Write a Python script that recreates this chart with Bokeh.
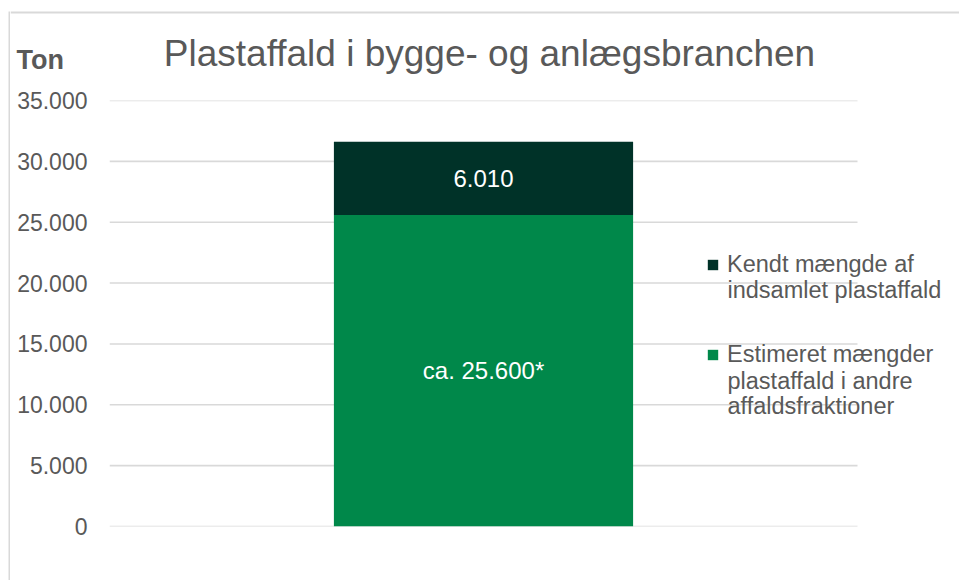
from bokeh.plotting import figure
from bokeh.models import (ColumnDataSource, Legend, LegendItem, Label, Range1d, Span)
from bokeh.layouts import row, column
from bokeh.embed import file_html
from bokeh.resources import INLINE
from bokeh.core.properties import value

# ---- data ----
categories = ["Bygge- og anlæg"]
series_names = [["Estimeret mængder", "plastaffald i andre", "affaldsfraktioner"],
                ["Kendt mængde af", "indsamlet plastaffald"]]
estimated = [25600]
known = [6010]
value_labels = ["ca. 25.600*", "6.010"]
y_ticks = [0, 5000, 10000, 15000, 20000, 25000, 30000, 35000]
y_tick_labels = ["0", "5.000", "10.000", "15.000", "20.000", "25.000", "30.000", "35.000"]
title_text = "Plastaffald i bygge- og anlægsbranchen"
unit_text = "Ton"

FONT = "Liberation Sans"
GRAY = "#595959"
LIGHT = "#d9d9d9"
C_EST = "#00884A"
C_KNOWN = "#003228"

W_TOTAL = 959
H_TOTAL = 580
STRIP_W = 10
HEAD_H = 88
MAIN_W = W_TOTAL - STRIP_W
MAIN_H = H_TOTAL - HEAD_H
MB_L, MB_R, MB_T, MB_B = 99, 4, 12, 54
CAT_PX = 748  # pixel width of the category band

# ---- left border strip ----
strip = figure(width=STRIP_W, height=H_TOTAL, x_range=(0, 1), y_range=(0, 1),
               output_backend="svg", toolbar_location=None,
               min_border_left=8, min_border_right=0, min_border_top=11, min_border_bottom=0)
strip.axis.visible = False
strip.grid.visible = False
strip.outline_line_color = None
strip.background_fill_color = LIGHT
strip.frame_align = False

# ---- header: title, unit, top border ----
head = figure(width=MAIN_W, height=HEAD_H, x_range=Range1d(0, MAIN_W), y_range=Range1d(0, HEAD_H),
              output_backend="svg", toolbar_location=None,
              min_border_left=0, min_border_right=0, min_border_top=0, min_border_bottom=0)
head.axis.visible = False
head.grid.visible = False
head.outline_line_color = None
head.frame_align = False
head.add_layout(Span(location=HEAD_H - 12, dimension="width", line_color=LIGHT, line_width=2))
head.add_layout(Label(x=479, y=HEAD_H - 53, text=title_text, text_font=FONT,
                      text_font_size="37px", text_color=GRAY, text_align="center",
                      text_baseline="middle"))
head.add_layout(Label(x=6, y=HEAD_H - 59.5, text=unit_text, text_font=FONT,
                      text_font_size="27px", text_font_style="bold", text_color=GRAY,
                      text_align="left", text_baseline="middle"))

# ---- main chart ----
frame_w = MAIN_W - MB_L - MB_R
xs = list(range(len(categories)))
x_start = -0.5
x_end = x_start + frame_w / CAT_PX

src = ColumnDataSource(dict(x=xs, est=estimated, known=known))

p = figure(width=MAIN_W, height=MAIN_H, x_range=Range1d(x_start, x_end),
           y_range=Range1d(0, 35000), output_backend="svg", toolbar_location=None,
           min_border_left=MB_L, min_border_right=MB_R, min_border_top=MB_T,
           min_border_bottom=MB_B)
p.frame_align = False

# horizontal gridlines over the category band only
p.segment(x0=[x_start] * len(y_ticks), x1=[len(categories) - 0.5] * len(y_ticks),
          y0=y_ticks, y1=y_ticks, line_color=LIGHT, line_width=1.6)

r = p.vbar_stack(["est", "known"], x="x", width=0.4, source=src,
                 color=[C_EST, C_KNOWN], line_color=None)

# data labels centred in each segment
bottoms = [0, estimated[0]]
tops = [estimated[0], estimated[0] + known[0]]
mids = [(b + t) / 2 for b, t in zip(bottoms, tops)]
lab_src = ColumnDataSource(dict(x=[xs[0]] * 2, y=mids, t=value_labels))
p.text(x="x", y="y", text="t", source=lab_src, text_color="white",
       text_font=value(FONT), text_font_size="24px", text_align="center",
       text_baseline="middle")

p.xaxis.visible = False
p.grid.visible = False
p.yaxis.ticker = y_ticks
p.yaxis.major_label_overrides = {t: l for t, l in zip(y_ticks, y_tick_labels)}
p.yaxis.axis_line_color = None
p.yaxis.major_tick_line_color = None
p.yaxis.minor_tick_line_color = None
p.yaxis.major_tick_out = 0
p.yaxis.major_tick_in = 0
p.yaxis.major_label_text_font = FONT
p.yaxis.major_label_text_font_size = "23px"
p.yaxis.major_label_text_color = GRAY
p.yaxis.major_label_standoff = 22
p.outline_line_color = None

# legend (first line of each entry) + continuation lines
legend = Legend(items=[LegendItem(label=series_names[1][0], renderers=[r[1]]),
                       LegendItem(label=series_names[0][0], renderers=[r[0]])],
                location=(597, 158), orientation="vertical",
                background_fill_alpha=0, border_line_color=None,
                label_text_font=FONT, label_text_font_size="23.5px",
                label_text_color=GRAY, glyph_width=13, glyph_height=13,
                label_standoff=8, spacing=63, padding=0, margin=0)
p.add_layout(legend, "center")

cont = [(series_names[1][1], 237), (series_names[0][1], 146), (series_names[0][2], 121)]
for txt, yy in cont:
    p.add_layout(Label(x=618, y=yy, x_units="screen", y_units="screen", text=txt,
                       text_font=FONT, text_font_size="23.5px", text_color=GRAY,
                       text_align="left", text_baseline="middle"))

layout = row(strip, column(head, p, spacing=0), spacing=0)

open("out.html", "w").write(file_html(layout, INLINE))
